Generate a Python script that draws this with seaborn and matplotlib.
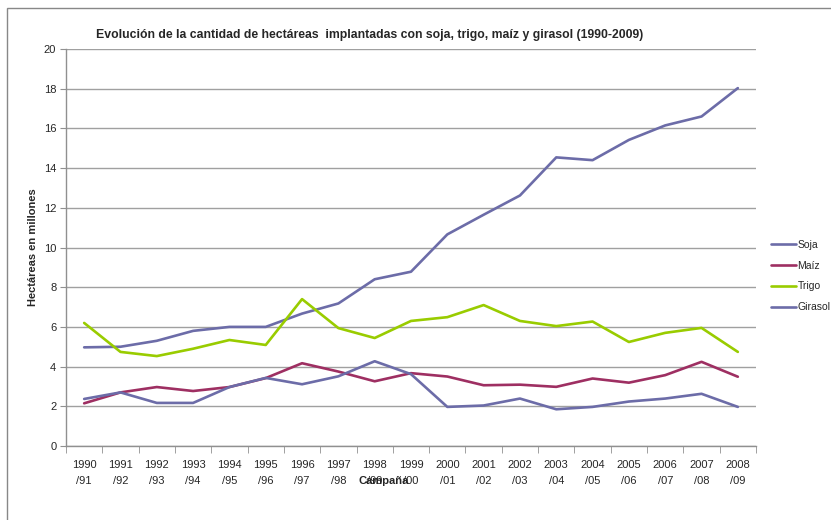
import pandas as pd
import matplotlib.pyplot as plt
import matplotlib.patches as patches
import seaborn as sns

campanas = ['1990\n/91', '1991\n/92', '1992\n/93', '1993\n/94', '1994\n/95', '1995\n/96',
            '1996\n/97', '1997\n/98', '1998\n/99', '1999\n/00', '2000\n/01', '2001\n/02',
            '2002\n/03', '2003\n/04', '2004\n/05', '2005\n/06', '2006\n/07', '2007\n/08',
            '2008\n/09']

soja = [4.97, 5.0, 5.3, 5.8, 6.0, 6.0, 6.67, 7.18, 8.4, 8.78, 10.66, 11.65, 12.62,
        14.54, 14.4, 15.42, 16.15, 16.6, 18.03]
maiz = [2.15, 2.7, 2.97, 2.77, 2.97, 3.42, 4.17, 3.75, 3.26, 3.67, 3.5, 3.06, 3.09,
        2.98, 3.4, 3.19, 3.57, 4.24, 3.49]
trigo = [6.2, 4.74, 4.53, 4.9, 5.34, 5.09, 7.4, 5.94, 5.44, 6.3, 6.49, 7.1, 6.3,
         6.04, 6.27, 5.24, 5.7, 5.95, 4.74]
girasol = [2.37, 2.7, 2.17, 2.17, 2.97, 3.43, 3.11, 3.51, 4.27, 3.62, 1.97, 2.04, 2.39,
           1.85, 1.97, 2.24, 2.39, 2.63, 1.97]

series = {'Soja': soja, 'Maíz': maiz, 'Trigo': trigo, 'Girasol': girasol}
colores = {'Soja': '#6c6ca8', 'Maíz': '#9e2f62', 'Trigo': '#99cc00', 'Girasol': '#6c6ca8'}

rows = []
for nombre, vals in series.items():
    for i, v in enumerate(vals):
        rows.append({'pos': i, 'valor': v, 'cultivo': nombre})
df = pd.DataFrame(rows)

sns.set_style('white')
plt.rcParams['font.family'] = ['Liberation Sans', 'DejaVu Sans']

fig = plt.figure(figsize=(8.31, 5.2), dpi=100)
ax = fig.add_axes([66 / 831, 1 - 446 / 520, 690 / 831, 397 / 520])

sns.lineplot(data=df, x='pos', y='valor', hue='cultivo', palette=colores,
             linewidth=1.9, ax=ax, legend=False, sort=False)

ax.set_xlim(-0.5, 18.5)
ax.set_ylim(0, 20)
ax.set_yticks(range(0, 21, 2))
ax.yaxis.grid(True, color='#a0a0a0', linewidth=1)
ax.set_axisbelow(True)
ax.set_xticks(range(len(campanas)))
ax.set_xticklabels(campanas, fontsize=8, linespacing=1.8)
ax.set_xticks([i - 0.5 for i in range(len(campanas) + 1)], minor=True)
ax.tick_params(axis='x', which='major', length=0, pad=10)
ax.tick_params(axis='x', which='minor', length=5, color='#909090', direction='out', bottom=True)
ax.tick_params(axis='y', length=4, color='#909090', direction='out', left=True, labelsize=8, pad=3)

for s in ['top', 'right']:
    ax.spines[s].set_visible(False)
for s in ['left', 'bottom']:
    ax.spines[s].set_color('#909090')
    ax.spines[s].set_linewidth(1)

ax.set_xlabel('Campaña', fontsize=8, fontweight='bold')
ax.xaxis.set_label_coords(0.46, -0.075)
ax.set_ylabel('Hectáreas en millones', fontsize=8, fontweight='bold')
ax.yaxis.set_label_coords(-0.04, 0.5)

fig.text(370 / 831, 1 - 35 / 520, 'Evolución de la cantidad de hectáreas  implantadas con soja, trigo, maíz y girasol (1990-2009)',
         ha='center', va='center', fontsize=8.8, fontweight='bold')

# leyenda
handles = [plt.Line2D([], [], color=colores[n], linewidth=1.9) for n in series]
fig.legend(handles, list(series.keys()), loc='center left',
           bbox_to_anchor=(762 / 831, 1 - 276 / 520), frameon=False, fontsize=7.5,
           handlelength=2.4, handletextpad=0.1, labelspacing=1.05)

# borde del gráfico
fig.patches.append(patches.Rectangle((7 / 831, -0.1), 1.1, 1 - 8 / 520 + 0.1,
                                     transform=fig.transFigure, fill=False,
                                     edgecolor='#888888', linewidth=1))

fig.savefig('out.png', dpi=100)
